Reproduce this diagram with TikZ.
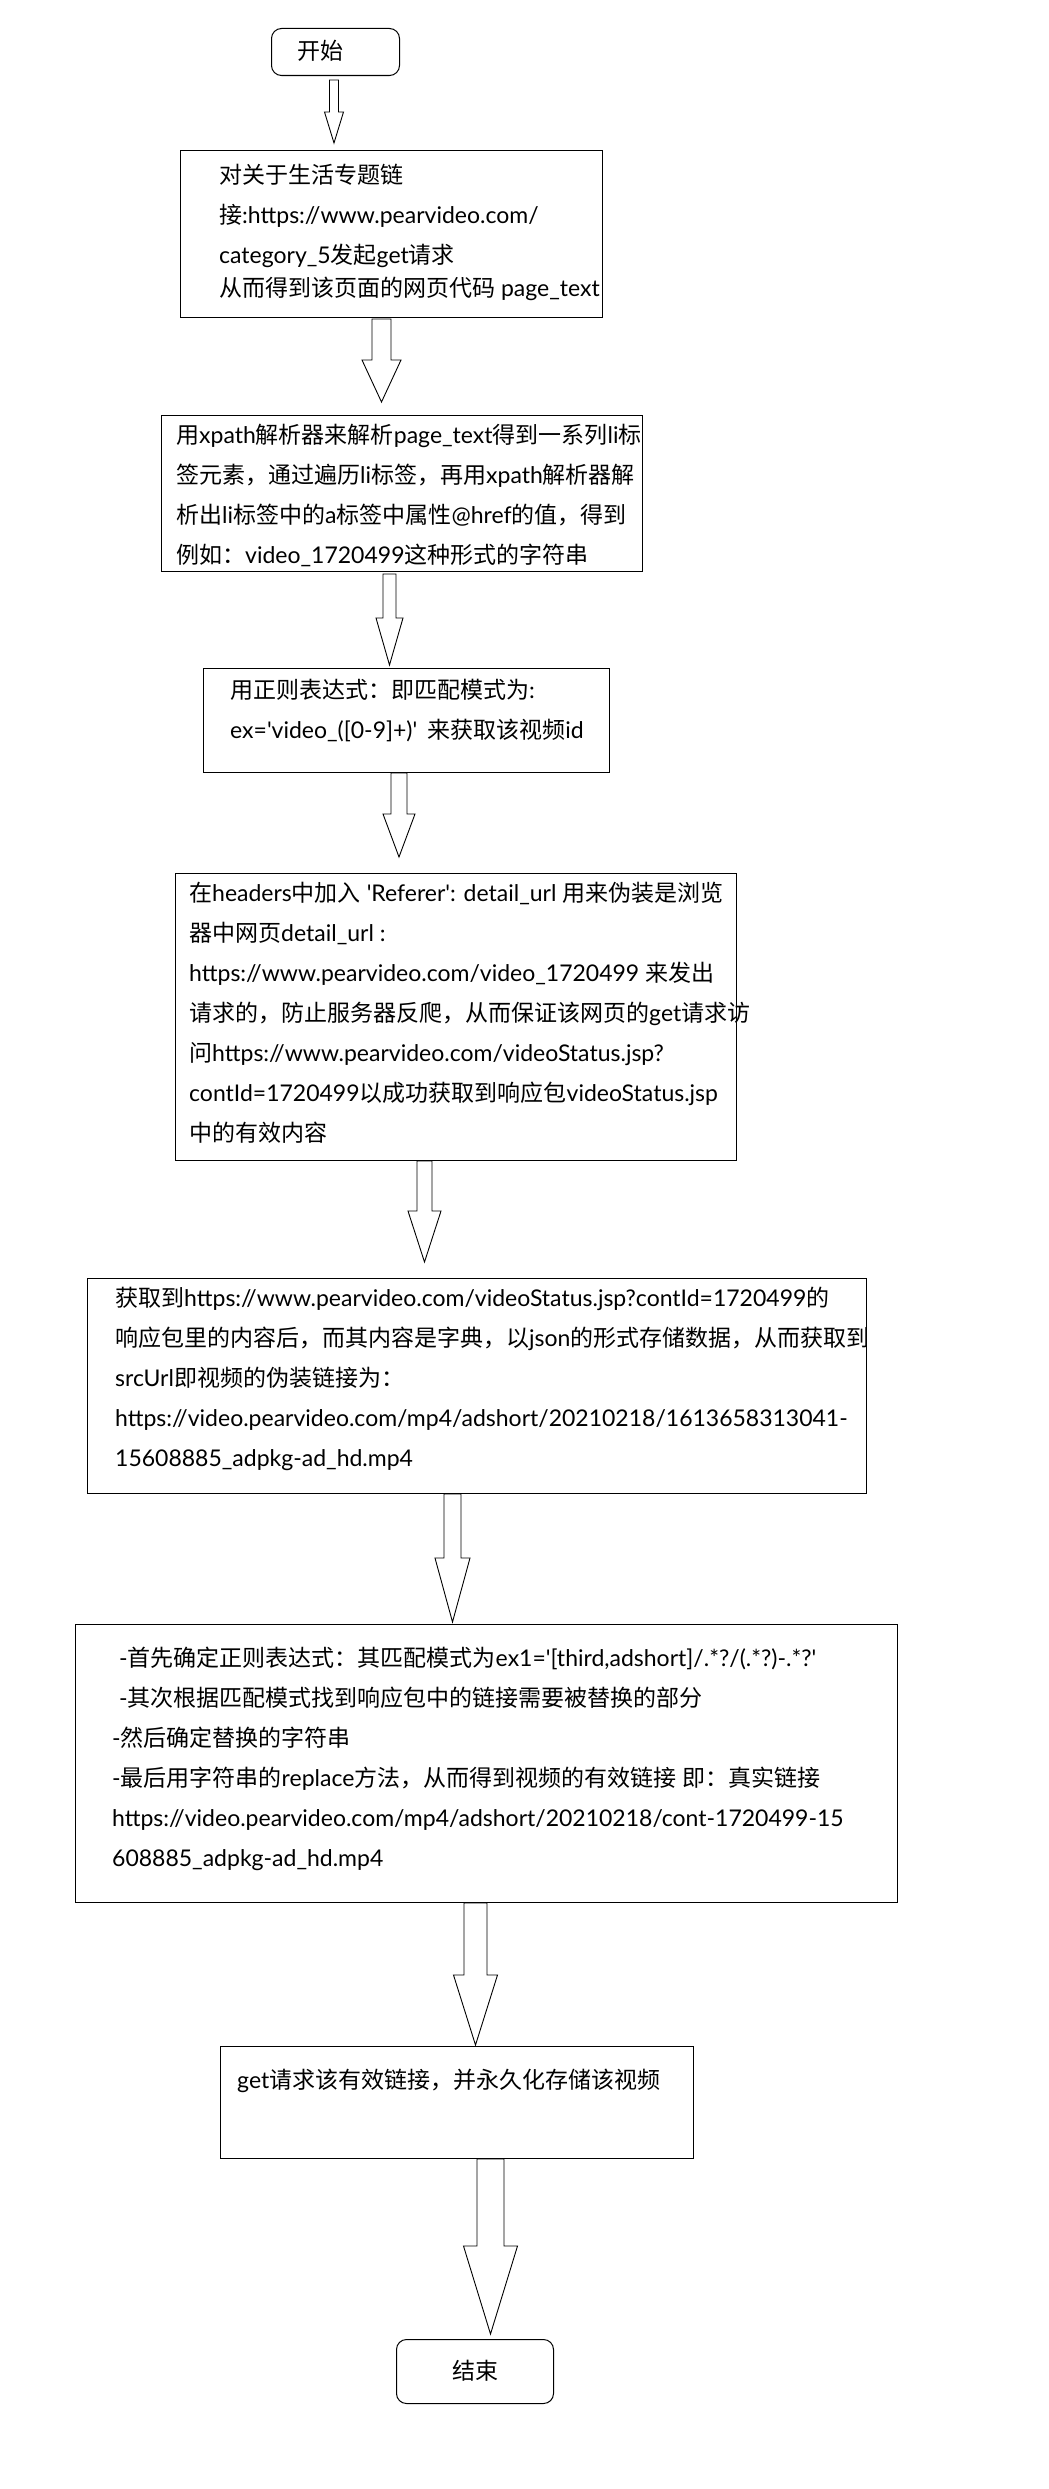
\documentclass[tikz,border=0pt]{standalone}
\usepackage{fontspec}
\usetikzlibrary{calc}
\newfontfamily\cjkf{Noto Sans CJK SC}
\newfontfamily\latf{Lato}
% automatic switching between the CJK font and the Latin font
\chardef\mycjk=7
\newcount\myc
\def\setcls#1#2{\myc=#1 \loop \XeTeXcharclass\myc=\mycjk \ifnum\myc<#2 \advance\myc by 1 \repeat}
\setcls{"3000}{"303F}
\setcls{"4E00}{"9FFF}
\setcls{"FF00}{"FFEF}
\XeTeXinterchartoks 0 \mycjk = {\cjkf}
\XeTeXinterchartoks 4095 \mycjk = {\cjkf}
\XeTeXinterchartoks \mycjk 0 = {\latf}
\XeTeXinterchartoks \mycjk 4095 = {\latf}
\XeTeXinterchartokenstate=1

\tikzset{
  box/.style={draw=black, line width=1pt, fill=white, inner sep=0pt, anchor=north west},
  termbox/.style={box, rounded corners=10pt},
  txt/.style={font=\latf\fontsize{23}{40}\selectfont, align=left, inner sep=0pt, anchor=north west, text=black},
  blockarrow/.style={draw=black, line width=0.9pt, fill=white, line join=miter},
}
% block arrow: #1 source node, #2 target node, #3 centre x, #4 half shaft width,
% #5 half head width, #6 gap below source, #7 y where the head starts, #8 gap above target
\newcommand\barrow[8]{%
  \draw[blockarrow] let \p1=(#1.south), \p2=(#2.north) in
    ({(#3-#4)*1pt},{\y1-#6pt}) -- ({(#3-#4)*1pt},{-#7pt}) -- ({(#3-#5)*1pt},{-#7pt})
    -- ({#3pt},{\y2+#8pt})
    -- ({(#3+#5)*1pt},{-#7pt}) -- ({(#3+#4)*1pt},{-#7pt}) -- ({(#3+#4)*1pt},{\y1-#6pt}) -- cycle;}

\begin{document}
\begin{tikzpicture}[x=1pt,y=-1pt]
\useasboundingbox[fill=white] (0,0) rectangle (1049,2489);

% boxes
\node[termbox, minimum width=128pt, minimum height=47pt] (start) at (271,28) {};
\node[box, minimum width=422pt, minimum height=167pt] (b1) at (180,150) {};
\node[box, minimum width=481pt, minimum height=156pt] (b2) at (161,415) {};
\node[box, minimum width=406pt, minimum height=104pt] (b3) at (203,668) {};
\node[box, minimum width=561pt, minimum height=287pt] (b4) at (175,873) {};
\node[box, minimum width=779pt, minimum height=215pt] (b5) at (87,1278) {};
\node[box, minimum width=822pt, minimum height=278pt] (b6) at (75,1624) {};
\node[box, minimum width=473pt, minimum height=112pt] (b7) at (220,2046) {};
\node[termbox, minimum width=157pt, minimum height=64pt] (end) at (396,2339) {};

% texts
\node[txt, anchor=west] (t0) at (297,51) {开始};
\node[txt] (t1) at (219,164) {对关于生活专题链\\接:https://www.pearvideo.com/\\category\_5发起get请求\\[-7pt]从而得到该页面的网页代码 page\_text};
\node[txt] (t2) at (176,424) {用xpath解析器来解析page\_text得到一系列li标\\签元素，通过遍历li标签，再用xpath解析器解\\析出li标签中的a标签中属性@href的值，得到\\例如：video\_1720499这种形式的字符串};
\node[txt] (t3) at (230,679) {用正则表达式：即匹配模式为:\\ex='video\_([0-9]+)'\hspace{10pt}来获取该视频id};
\node[txt] (t4) at (189,882) {在headers中加入 'Referer': detail\_url 用来伪装是浏览\\器中网页detail\_url :\\https://www.pearvideo.com/video\_1720499 来发出\\请求的，防止服务器反爬，从而保证该网页的get请求访\\问https://www.pearvideo.com/videoStatus.jsp?\\contId=1720499以成功获取到响应包videoStatus.jsp\\中的有效内容};
\node[txt] (t5) at (115,1287) {获取到https://www.pearvideo.com/videoStatus.jsp?contId=1720499的\\响应包里的内容后，而其内容是字典，以json的形式存储数据，从而获取到\\srcUrl即视频的伪装链接为：\\https://video.pearvideo.com/mp4/adshort/20210218/1613658313041-\\15608885\_adpkg-ad\_hd.mp4};
\node[txt] (t6) at (112,1647) {\hspace*{7pt}-首先确定正则表达式：其匹配模式为ex1='[third,adshort]/.*?/(.*?)-.*?'\\\hspace*{7pt}-其次根据匹配模式找到响应包中的链接需要被替换的部分\\-然后确定替换的字符串\\-最后用字符串的replace方法，从而得到视频的有效链接 即：真实链接\\https://video.pearvideo.com/mp4/adshort/20210218/cont-1720499-15\\608885\_adpkg-ad\_hd.mp4};
\node[txt] (t7) at (237,2069) {get请求该有效链接，并永久化存储该视频};
\node[txt, anchor=west] (t8) at (452,2371) {结束};

% block arrows
\barrow{start}{b1}{334}{4.5}{9.5}{4}{112}{7}
\barrow{b1}{b2}{381.5}{9.5}{19.5}{1}{360}{13}
\barrow{b2}{b3}{389.5}{6.5}{13.5}{2}{618}{3}
\barrow{b3}{b4}{399}{8}{16}{0}{814}{16}
\barrow{b4}{b5}{424.5}{7.5}{16.5}{0}{1211}{16}
\barrow{b5}{b6}{452.5}{8.5}{17.5}{0}{1558}{2}
\barrow{b6}{b7}{475.5}{11.5}{22}{0}{1975}{1}
\barrow{b7}{end}{490.5}{13.5}{27}{0}{2246}{5}
\end{tikzpicture}
\end{document}
